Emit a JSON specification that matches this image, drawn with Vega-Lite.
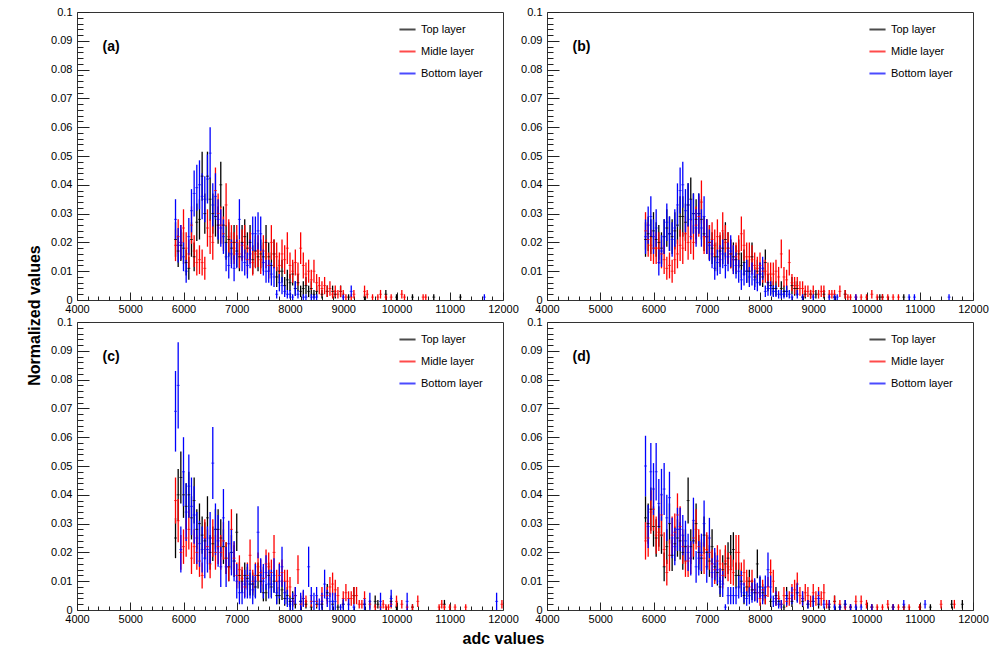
{
"$schema": "https://vega.github.io/schema/vega-lite/v6.json",
"background": "white",
"padding": {"left": 25, "top": 5, "right": 5, "bottom": 5},
"config": {
  "view": {"stroke": "#333", "strokeWidth": 1},
  "font": "Liberation Sans",
  "axis": {"zindex": 1, "labelFont": "Liberation Sans", "labelFontSize": 11, "labelColor": "#000", "domainColor": "#333", "tickColor": "#222", "tickWidth": 1, "grid": false, "titleFont": "Liberation Sans", "titleFontSize": 16, "titleFontWeight": "bold", "titleColor": "#000"},
  "legend": {"labelFont": "Liberation Sans", "labelFontSize": 11, "labelColor": "#000"}
},
"datasets": {
"a": [
{"l":"T","x":5850,"y":0.021,"e":0.006},{"l":"T","x":5900,"y":0.017,"e":0.0055},{"l":"T","x":5950,"y":0.019,"e":0.0055},{"l":"T","x":6000,"y":0.018,"e":0.0055},{"l":"T","x":6050,"y":0.013,"e":0.0045},{"l":"T","x":6100,"y":0.011,"e":0.004},{"l":"T","x":6150,"y":0.021,"e":0.006},{"l":"T","x":6200,"y":0.015,"e":0.005},{"l":"T","x":6250,"y":0.027,"e":0.0065},{"l":"T","x":6300,"y":0.028,"e":0.007},{"l":"T","x":6350,"y":0.043,"e":0.0085},{"l":"T","x":6400,"y":0.03,"e":0.007},{"l":"T","x":6450,"y":0.043,"e":0.0085},{"l":"T","x":6500,"y":0.035,"e":0.0075},{"l":"T","x":6550,"y":0.03,"e":0.007},{"l":"T","x":6600,"y":0.029,"e":0.007},{"l":"T","x":6650,"y":0.026,"e":0.0065},{"l":"T","x":6700,"y":0.04,"e":0.008},{"l":"T","x":6750,"y":0.026,"e":0.0065},{"l":"T","x":6800,"y":0.02,"e":0.006},{"l":"T","x":6850,"y":0.021,"e":0.006},{"l":"T","x":6900,"y":0.018,"e":0.0055},{"l":"T","x":6950,"y":0.02,"e":0.006},{"l":"T","x":7000,"y":0.017,"e":0.0055},{"l":"T","x":7050,"y":0.015,"e":0.005},{"l":"T","x":7100,"y":0.02,"e":0.006},{"l":"T","x":7150,"y":0.022,"e":0.006},{"l":"T","x":7200,"y":0.018,"e":0.0055},{"l":"T","x":7250,"y":0.02,"e":0.006},{"l":"T","x":7300,"y":0.014,"e":0.005},{"l":"T","x":7350,"y":0.017,"e":0.0055},{"l":"T","x":7400,"y":0.015,"e":0.005},{"l":"T","x":7450,"y":0.016,"e":0.005},{"l":"T","x":7500,"y":0.015,"e":0.005},{"l":"T","x":7550,"y":0.02,"e":0.006},{"l":"T","x":7600,"y":0.015,"e":0.005},{"l":"T","x":7650,"y":0.012,"e":0.0045},{"l":"T","x":7700,"y":0.016,"e":0.005},{"l":"T","x":7750,"y":0.008,"e":0.0035},{"l":"T","x":7800,"y":0.01,"e":0.004},{"l":"T","x":7850,"y":0.01,"e":0.004},{"l":"T","x":7900,"y":0.005,"e":0.003},{"l":"T","x":7950,"y":0.007,"e":0.0035},{"l":"T","x":8000,"y":0.006,"e":0.003},{"l":"T","x":8050,"y":0.009,"e":0.004},{"l":"T","x":8100,"y":0.004,"e":0.0025},{"l":"T","x":8150,"y":0.006,"e":0.003},{"l":"T","x":8200,"y":0.003,"e":0.002},{"l":"T","x":8250,"y":0.004,"e":0.0025},{"l":"T","x":8300,"y":0.005,"e":0.003},{"l":"T","x":8350,"y":0.003,"e":0.002},{"l":"T","x":8400,"y":0.004,"e":0.0025},{"l":"T","x":8450,"y":0.002,"e":0.0015},{"l":"T","x":8500,"y":0.003,"e":0.002},{"l":"T","x":8600,"y":0.002,"e":0.0015},{"l":"T","x":8700,"y":0.003,"e":0.002},{"l":"T","x":8800,"y":0.003,"e":0.002},{"l":"T","x":8850,"y":0.002,"e":0.0015},{"l":"T","x":8950,"y":0.003,"e":0.002},{"l":"T","x":9100,"y":0.001,"e":0.001},{"l":"T","x":9400,"y":0.001,"e":0.001},{"l":"T","x":9800,"y":0.002,"e":0.0015},{"l":"T","x":10000,"y":0.001,"e":0.001},{"l":"T","x":10300,"y":0.001,"e":0.001},{"l":"T","x":10700,"y":0.001,"e":0.001},{"l":"T","x":11200,"y":0.001,"e":0.001},
{"l":"M","x":5850,"y":0.019,"e":0.0055},{"l":"M","x":5900,"y":0.022,"e":0.006},{"l":"M","x":5950,"y":0.02,"e":0.006},{"l":"M","x":6000,"y":0.025,"e":0.0065},{"l":"M","x":6050,"y":0.018,"e":0.0055},{"l":"M","x":6100,"y":0.016,"e":0.005},{"l":"M","x":6150,"y":0.026,"e":0.0065},{"l":"M","x":6200,"y":0.017,"e":0.0055},{"l":"M","x":6250,"y":0.013,"e":0.0045},{"l":"M","x":6300,"y":0.014,"e":0.005},{"l":"M","x":6350,"y":0.013,"e":0.0045},{"l":"M","x":6400,"y":0.011,"e":0.004},{"l":"M","x":6450,"y":0.025,"e":0.0065},{"l":"M","x":6500,"y":0.022,"e":0.006},{"l":"M","x":6550,"y":0.02,"e":0.006},{"l":"M","x":6600,"y":0.038,"e":0.008},{"l":"M","x":6650,"y":0.03,"e":0.007},{"l":"M","x":6700,"y":0.026,"e":0.0065},{"l":"M","x":6750,"y":0.023,"e":0.006},{"l":"M","x":6800,"y":0.033,"e":0.0075},{"l":"M","x":6850,"y":0.022,"e":0.006},{"l":"M","x":6900,"y":0.02,"e":0.006},{"l":"M","x":6950,"y":0.018,"e":0.0055},{"l":"M","x":7000,"y":0.02,"e":0.006},{"l":"M","x":7050,"y":0.016,"e":0.005},{"l":"M","x":7100,"y":0.019,"e":0.0055},{"l":"M","x":7150,"y":0.02,"e":0.006},{"l":"M","x":7200,"y":0.014,"e":0.005},{"l":"M","x":7250,"y":0.018,"e":0.0055},{"l":"M","x":7300,"y":0.013,"e":0.0045},{"l":"M","x":7350,"y":0.016,"e":0.005},{"l":"M","x":7400,"y":0.017,"e":0.0055},{"l":"M","x":7450,"y":0.014,"e":0.005},{"l":"M","x":7500,"y":0.017,"e":0.0055},{"l":"M","x":7550,"y":0.016,"e":0.005},{"l":"M","x":7600,"y":0.012,"e":0.0045},{"l":"M","x":7650,"y":0.02,"e":0.006},{"l":"M","x":7700,"y":0.016,"e":0.005},{"l":"M","x":7750,"y":0.015,"e":0.005},{"l":"M","x":7800,"y":0.012,"e":0.0045},{"l":"M","x":7850,"y":0.016,"e":0.005},{"l":"M","x":7900,"y":0.014,"e":0.005},{"l":"M","x":7950,"y":0.018,"e":0.0055},{"l":"M","x":8000,"y":0.012,"e":0.0045},{"l":"M","x":8050,"y":0.01,"e":0.004},{"l":"M","x":8100,"y":0.013,"e":0.0045},{"l":"M","x":8150,"y":0.009,"e":0.004},{"l":"M","x":8200,"y":0.018,"e":0.0055},{"l":"M","x":8250,"y":0.012,"e":0.0045},{"l":"M","x":8300,"y":0.009,"e":0.004},{"l":"M","x":8350,"y":0.01,"e":0.004},{"l":"M","x":8400,"y":0.007,"e":0.0035},{"l":"M","x":8450,"y":0.01,"e":0.004},{"l":"M","x":8500,"y":0.006,"e":0.003},{"l":"M","x":8550,"y":0.005,"e":0.003},{"l":"M","x":8600,"y":0.004,"e":0.0025},{"l":"M","x":8650,"y":0.005,"e":0.003},{"l":"M","x":8700,"y":0.003,"e":0.002},{"l":"M","x":8750,"y":0.004,"e":0.0025},{"l":"M","x":8800,"y":0.002,"e":0.0015},{"l":"M","x":8850,"y":0.003,"e":0.002},{"l":"M","x":8900,"y":0.002,"e":0.0015},{"l":"M","x":8950,"y":0.003,"e":0.002},{"l":"M","x":9000,"y":0.002,"e":0.0015},{"l":"M","x":9050,"y":0.001,"e":0.001},{"l":"M","x":9150,"y":0.001,"e":0.001},{"l":"M","x":9200,"y":0.002,"e":0.0015},{"l":"M","x":9400,"y":0.003,"e":0.002},{"l":"M","x":9450,"y":0.002,"e":0.0015},{"l":"M","x":9550,"y":0.001,"e":0.001},{"l":"M","x":9650,"y":0.001,"e":0.001},{"l":"M","x":9700,"y":0.002,"e":0.0015},{"l":"M","x":9800,"y":0.001,"e":0.001},{"l":"M","x":9900,"y":0.001,"e":0.001},{"l":"M","x":10100,"y":0.002,"e":0.0015},{"l":"M","x":10150,"y":0.001,"e":0.001},{"l":"M","x":10500,"y":0.001,"e":0.001},{"l":"M","x":10550,"y":0.001,"e":0.001},
{"l":"B","x":5850,"y":0.028,"e":0.007},{"l":"B","x":5900,"y":0.019,"e":0.006},{"l":"B","x":5950,"y":0.02,"e":0.006},{"l":"B","x":6000,"y":0.015,"e":0.005},{"l":"B","x":6050,"y":0.01,"e":0.004},{"l":"B","x":6100,"y":0.022,"e":0.0065},{"l":"B","x":6150,"y":0.031,"e":0.0075},{"l":"B","x":6200,"y":0.037,"e":0.008},{"l":"B","x":6250,"y":0.039,"e":0.008},{"l":"B","x":6300,"y":0.04,"e":0.0085},{"l":"B","x":6350,"y":0.036,"e":0.008},{"l":"B","x":6400,"y":0.035,"e":0.008},{"l":"B","x":6450,"y":0.042,"e":0.0085},{"l":"B","x":6500,"y":0.051,"e":0.009},{"l":"B","x":6550,"y":0.033,"e":0.0075},{"l":"B","x":6600,"y":0.036,"e":0.008},{"l":"B","x":6650,"y":0.028,"e":0.007},{"l":"B","x":6700,"y":0.025,"e":0.0065},{"l":"B","x":6750,"y":0.022,"e":0.006},{"l":"B","x":6800,"y":0.015,"e":0.005},{"l":"B","x":6850,"y":0.012,"e":0.0045},{"l":"B","x":6900,"y":0.016,"e":0.005},{"l":"B","x":6950,"y":0.011,"e":0.0045},{"l":"B","x":7000,"y":0.016,"e":0.005},{"l":"B","x":7050,"y":0.028,"e":0.007},{"l":"B","x":7100,"y":0.015,"e":0.005},{"l":"B","x":7150,"y":0.013,"e":0.0045},{"l":"B","x":7200,"y":0.012,"e":0.0045},{"l":"B","x":7250,"y":0.016,"e":0.005},{"l":"B","x":7300,"y":0.023,"e":0.006},{"l":"B","x":7350,"y":0.023,"e":0.006},{"l":"B","x":7400,"y":0.024,"e":0.0065},{"l":"B","x":7450,"y":0.023,"e":0.006},{"l":"B","x":7500,"y":0.013,"e":0.0045},{"l":"B","x":7550,"y":0.01,"e":0.004},{"l":"B","x":7600,"y":0.01,"e":0.004},{"l":"B","x":7650,"y":0.009,"e":0.004},{"l":"B","x":7700,"y":0.008,"e":0.0035},{"l":"B","x":7750,"y":0.002,"e":0.0015},{"l":"B","x":7800,"y":0.006,"e":0.003},{"l":"B","x":7850,"y":0.005,"e":0.003},{"l":"B","x":7900,"y":0.003,"e":0.002},{"l":"B","x":7950,"y":0.002,"e":0.0015},{"l":"B","x":8000,"y":0.002,"e":0.0015},{"l":"B","x":8050,"y":0.001,"e":0.001},{"l":"B","x":8100,"y":0.004,"e":0.0025},{"l":"B","x":8150,"y":0.002,"e":0.0015},{"l":"B","x":8250,"y":0.001,"e":0.001},{"l":"B","x":8300,"y":0.001,"e":0.001},{"l":"B","x":8400,"y":0.001,"e":0.001},{"l":"B","x":8450,"y":0.001,"e":0.001},{"l":"B","x":8500,"y":0.001,"e":0.001},{"l":"B","x":9000,"y":0.001,"e":0.001},{"l":"B","x":9150,"y":0.003,"e":0.002},{"l":"B","x":11650,"y":0.001,"e":0.001}
],
"b": [
{"l":"T","x":5850,"y":0.021,"e":0.006},{"l":"T","x":5900,"y":0.023,"e":0.006},{"l":"T","x":5950,"y":0.022,"e":0.006},{"l":"T","x":6000,"y":0.024,"e":0.0065},{"l":"T","x":6050,"y":0.021,"e":0.006},{"l":"T","x":6100,"y":0.02,"e":0.006},{"l":"T","x":6150,"y":0.018,"e":0.0055},{"l":"T","x":6200,"y":0.022,"e":0.006},{"l":"T","x":6250,"y":0.025,"e":0.0065},{"l":"T","x":6300,"y":0.023,"e":0.006},{"l":"T","x":6350,"y":0.022,"e":0.006},{"l":"T","x":6400,"y":0.024,"e":0.0065},{"l":"T","x":6450,"y":0.026,"e":0.0065},{"l":"T","x":6500,"y":0.029,"e":0.007},{"l":"T","x":6550,"y":0.029,"e":0.007},{"l":"T","x":6600,"y":0.027,"e":0.0065},{"l":"T","x":6650,"y":0.033,"e":0.0075},{"l":"T","x":6700,"y":0.035,"e":0.0075},{"l":"T","x":6750,"y":0.03,"e":0.007},{"l":"T","x":6800,"y":0.028,"e":0.007},{"l":"T","x":6850,"y":0.03,"e":0.007},{"l":"T","x":6900,"y":0.028,"e":0.007},{"l":"T","x":6950,"y":0.023,"e":0.006},{"l":"T","x":7000,"y":0.022,"e":0.006},{"l":"T","x":7050,"y":0.02,"e":0.006},{"l":"T","x":7100,"y":0.018,"e":0.0055},{"l":"T","x":7150,"y":0.015,"e":0.005},{"l":"T","x":7200,"y":0.015,"e":0.005},{"l":"T","x":7250,"y":0.017,"e":0.0055},{"l":"T","x":7300,"y":0.018,"e":0.0055},{"l":"T","x":7350,"y":0.021,"e":0.006},{"l":"T","x":7400,"y":0.018,"e":0.0055},{"l":"T","x":7450,"y":0.016,"e":0.005},{"l":"T","x":7500,"y":0.015,"e":0.005},{"l":"T","x":7550,"y":0.014,"e":0.005},{"l":"T","x":7600,"y":0.016,"e":0.005},{"l":"T","x":7650,"y":0.012,"e":0.0045},{"l":"T","x":7700,"y":0.013,"e":0.0045},{"l":"T","x":7750,"y":0.01,"e":0.004},{"l":"T","x":7800,"y":0.01,"e":0.004},{"l":"T","x":7850,"y":0.015,"e":0.005},{"l":"T","x":7900,"y":0.008,"e":0.0035},{"l":"T","x":7950,"y":0.01,"e":0.004},{"l":"T","x":8000,"y":0.009,"e":0.004},{"l":"T","x":8050,"y":0.008,"e":0.0035},{"l":"T","x":8100,"y":0.013,"e":0.0045},{"l":"T","x":8150,"y":0.006,"e":0.003},{"l":"T","x":8200,"y":0.005,"e":0.003},{"l":"T","x":8250,"y":0.004,"e":0.0025},{"l":"T","x":8300,"y":0.004,"e":0.0025},{"l":"T","x":8400,"y":0.004,"e":0.0025},{"l":"T","x":8450,"y":0.003,"e":0.002},{"l":"T","x":8500,"y":0.003,"e":0.002},{"l":"T","x":8600,"y":0.005,"e":0.003},{"l":"T","x":8650,"y":0.004,"e":0.0025},{"l":"T","x":8700,"y":0.004,"e":0.0025},{"l":"T","x":8800,"y":0.001,"e":0.001},{"l":"T","x":8850,"y":0.002,"e":0.0015},{"l":"T","x":8950,"y":0.002,"e":0.0015},{"l":"T","x":9050,"y":0.002,"e":0.0015},{"l":"T","x":9200,"y":0.002,"e":0.0015},{"l":"T","x":9400,"y":0.001,"e":0.001},{"l":"T","x":9600,"y":0.002,"e":0.0015},{"l":"T","x":10250,"y":0.001,"e":0.001},{"l":"T","x":10300,"y":0.001,"e":0.001},{"l":"T","x":10700,"y":0.001,"e":0.001},
{"l":"M","x":5850,"y":0.024,"e":0.0065},{"l":"M","x":5900,"y":0.021,"e":0.006},{"l":"M","x":5950,"y":0.019,"e":0.0055},{"l":"M","x":6000,"y":0.018,"e":0.0055},{"l":"M","x":6050,"y":0.018,"e":0.0055},{"l":"M","x":6100,"y":0.018,"e":0.0055},{"l":"M","x":6150,"y":0.016,"e":0.005},{"l":"M","x":6200,"y":0.014,"e":0.005},{"l":"M","x":6250,"y":0.011,"e":0.004},{"l":"M","x":6300,"y":0.012,"e":0.0045},{"l":"M","x":6350,"y":0.01,"e":0.004},{"l":"M","x":6400,"y":0.014,"e":0.005},{"l":"M","x":6450,"y":0.016,"e":0.005},{"l":"M","x":6500,"y":0.019,"e":0.0055},{"l":"M","x":6550,"y":0.018,"e":0.0055},{"l":"M","x":6600,"y":0.023,"e":0.006},{"l":"M","x":6650,"y":0.02,"e":0.006},{"l":"M","x":6700,"y":0.022,"e":0.006},{"l":"M","x":6750,"y":0.02,"e":0.006},{"l":"M","x":6800,"y":0.026,"e":0.0065},{"l":"M","x":6850,"y":0.029,"e":0.007},{"l":"M","x":6900,"y":0.034,"e":0.0075},{"l":"M","x":6950,"y":0.022,"e":0.006},{"l":"M","x":7000,"y":0.022,"e":0.006},{"l":"M","x":7050,"y":0.02,"e":0.006},{"l":"M","x":7100,"y":0.021,"e":0.006},{"l":"M","x":7150,"y":0.019,"e":0.0055},{"l":"M","x":7200,"y":0.022,"e":0.006},{"l":"M","x":7250,"y":0.018,"e":0.0055},{"l":"M","x":7300,"y":0.024,"e":0.0065},{"l":"M","x":7350,"y":0.02,"e":0.006},{"l":"M","x":7400,"y":0.018,"e":0.0055},{"l":"M","x":7450,"y":0.016,"e":0.005},{"l":"M","x":7500,"y":0.014,"e":0.005},{"l":"M","x":7550,"y":0.015,"e":0.005},{"l":"M","x":7600,"y":0.017,"e":0.0055},{"l":"M","x":7650,"y":0.023,"e":0.006},{"l":"M","x":7700,"y":0.019,"e":0.0055},{"l":"M","x":7750,"y":0.015,"e":0.005},{"l":"M","x":7800,"y":0.015,"e":0.005},{"l":"M","x":7850,"y":0.014,"e":0.005},{"l":"M","x":7900,"y":0.012,"e":0.0045},{"l":"M","x":7950,"y":0.011,"e":0.004},{"l":"M","x":8000,"y":0.012,"e":0.0045},{"l":"M","x":8050,"y":0.01,"e":0.004},{"l":"M","x":8100,"y":0.01,"e":0.004},{"l":"M","x":8150,"y":0.009,"e":0.004},{"l":"M","x":8200,"y":0.009,"e":0.004},{"l":"M","x":8250,"y":0.009,"e":0.004},{"l":"M","x":8300,"y":0.01,"e":0.004},{"l":"M","x":8350,"y":0.008,"e":0.0035},{"l":"M","x":8400,"y":0.016,"e":0.005},{"l":"M","x":8450,"y":0.008,"e":0.0035},{"l":"M","x":8500,"y":0.007,"e":0.0035},{"l":"M","x":8550,"y":0.013,"e":0.0045},{"l":"M","x":8600,"y":0.006,"e":0.003},{"l":"M","x":8650,"y":0.005,"e":0.003},{"l":"M","x":8700,"y":0.005,"e":0.003},{"l":"M","x":8750,"y":0.004,"e":0.0025},{"l":"M","x":8800,"y":0.004,"e":0.0025},{"l":"M","x":8850,"y":0.003,"e":0.002},{"l":"M","x":8900,"y":0.003,"e":0.002},{"l":"M","x":8950,"y":0.002,"e":0.0015},{"l":"M","x":9000,"y":0.003,"e":0.002},{"l":"M","x":9100,"y":0.002,"e":0.0015},{"l":"M","x":9150,"y":0.003,"e":0.002},{"l":"M","x":9200,"y":0.003,"e":0.002},{"l":"M","x":9300,"y":0.002,"e":0.0015},{"l":"M","x":9350,"y":0.002,"e":0.0015},{"l":"M","x":9400,"y":0.002,"e":0.0015},{"l":"M","x":9500,"y":0.003,"e":0.002},{"l":"M","x":9600,"y":0.002,"e":0.0015},{"l":"M","x":9650,"y":0.001,"e":0.001},{"l":"M","x":9700,"y":0.001,"e":0.001},{"l":"M","x":9800,"y":0.001,"e":0.001},{"l":"M","x":9900,"y":0.001,"e":0.001},{"l":"M","x":10000,"y":0.001,"e":0.001},{"l":"M","x":10100,"y":0.002,"e":0.0015},{"l":"M","x":10200,"y":0.001,"e":0.001},{"l":"M","x":10300,"y":0.001,"e":0.001},{"l":"M","x":10400,"y":0.001,"e":0.001},{"l":"M","x":10500,"y":0.001,"e":0.001},{"l":"M","x":10600,"y":0.001,"e":0.001},
{"l":"B","x":5850,"y":0.022,"e":0.006},{"l":"B","x":5900,"y":0.026,"e":0.0065},{"l":"B","x":5950,"y":0.029,"e":0.007},{"l":"B","x":6000,"y":0.022,"e":0.006},{"l":"B","x":6050,"y":0.025,"e":0.0065},{"l":"B","x":6100,"y":0.013,"e":0.0045},{"l":"B","x":6150,"y":0.017,"e":0.0055},{"l":"B","x":6200,"y":0.022,"e":0.006},{"l":"B","x":6250,"y":0.027,"e":0.0065},{"l":"B","x":6300,"y":0.023,"e":0.006},{"l":"B","x":6350,"y":0.021,"e":0.006},{"l":"B","x":6400,"y":0.025,"e":0.0065},{"l":"B","x":6450,"y":0.033,"e":0.0075},{"l":"B","x":6500,"y":0.038,"e":0.008},{"l":"B","x":6550,"y":0.04,"e":0.008},{"l":"B","x":6600,"y":0.031,"e":0.0075},{"l":"B","x":6650,"y":0.033,"e":0.0075},{"l":"B","x":6700,"y":0.028,"e":0.007},{"l":"B","x":6750,"y":0.03,"e":0.007},{"l":"B","x":6800,"y":0.025,"e":0.0065},{"l":"B","x":6850,"y":0.03,"e":0.007},{"l":"B","x":6900,"y":0.025,"e":0.0065},{"l":"B","x":6950,"y":0.029,"e":0.007},{"l":"B","x":7000,"y":0.022,"e":0.006},{"l":"B","x":7050,"y":0.019,"e":0.0055},{"l":"B","x":7100,"y":0.016,"e":0.005},{"l":"B","x":7150,"y":0.011,"e":0.004},{"l":"B","x":7200,"y":0.013,"e":0.0045},{"l":"B","x":7250,"y":0.014,"e":0.005},{"l":"B","x":7300,"y":0.016,"e":0.005},{"l":"B","x":7350,"y":0.012,"e":0.0045},{"l":"B","x":7400,"y":0.015,"e":0.005},{"l":"B","x":7450,"y":0.017,"e":0.0055},{"l":"B","x":7500,"y":0.014,"e":0.005},{"l":"B","x":7550,"y":0.012,"e":0.0045},{"l":"B","x":7600,"y":0.01,"e":0.004},{"l":"B","x":7650,"y":0.007,"e":0.0035},{"l":"B","x":7700,"y":0.009,"e":0.004},{"l":"B","x":7750,"y":0.01,"e":0.004},{"l":"B","x":7800,"y":0.008,"e":0.0035},{"l":"B","x":7850,"y":0.009,"e":0.004},{"l":"B","x":7900,"y":0.007,"e":0.0035},{"l":"B","x":7950,"y":0.006,"e":0.003},{"l":"B","x":8000,"y":0.009,"e":0.004},{"l":"B","x":8050,"y":0.011,"e":0.004},{"l":"B","x":8100,"y":0.003,"e":0.002},{"l":"B","x":8150,"y":0.004,"e":0.0025},{"l":"B","x":8200,"y":0.004,"e":0.0025},{"l":"B","x":8250,"y":0.003,"e":0.002},{"l":"B","x":8300,"y":0.003,"e":0.002},{"l":"B","x":8350,"y":0.002,"e":0.0015},{"l":"B","x":8400,"y":0.002,"e":0.0015},{"l":"B","x":8450,"y":0.002,"e":0.0015},{"l":"B","x":8500,"y":0.003,"e":0.002},{"l":"B","x":8550,"y":0.002,"e":0.0015},{"l":"B","x":8600,"y":0.001,"e":0.001},{"l":"B","x":8700,"y":0.002,"e":0.0015},{"l":"B","x":8800,"y":0.001,"e":0.001},{"l":"B","x":9000,"y":0.001,"e":0.001},{"l":"B","x":9300,"y":0.001,"e":0.001},{"l":"B","x":9400,"y":0.001,"e":0.001},{"l":"B","x":9450,"y":0.001,"e":0.001},{"l":"B","x":9800,"y":0.001,"e":0.001},{"l":"B","x":10800,"y":0.001,"e":0.001},{"l":"B","x":10900,"y":0.001,"e":0.001},{"l":"B","x":11550,"y":0.001,"e":0.001}
],
"c": [
{"l":"T","x":5850,"y":0.025,"e":0.007},{"l":"T","x":5900,"y":0.04,"e":0.009},{"l":"T","x":5950,"y":0.046,"e":0.009},{"l":"T","x":6000,"y":0.04,"e":0.008},{"l":"T","x":6050,"y":0.036,"e":0.008},{"l":"T","x":6100,"y":0.04,"e":0.008},{"l":"T","x":6150,"y":0.032,"e":0.0075},{"l":"T","x":6200,"y":0.038,"e":0.008},{"l":"T","x":6250,"y":0.028,"e":0.007},{"l":"T","x":6300,"y":0.03,"e":0.007},{"l":"T","x":6350,"y":0.026,"e":0.0065},{"l":"T","x":6400,"y":0.024,"e":0.0065},{"l":"T","x":6450,"y":0.032,"e":0.0075},{"l":"T","x":6500,"y":0.02,"e":0.006},{"l":"T","x":6550,"y":0.023,"e":0.006},{"l":"T","x":6600,"y":0.028,"e":0.007},{"l":"T","x":6650,"y":0.028,"e":0.007},{"l":"T","x":6700,"y":0.025,"e":0.0065},{"l":"T","x":6750,"y":0.022,"e":0.006},{"l":"T","x":6800,"y":0.018,"e":0.0055},{"l":"T","x":6850,"y":0.015,"e":0.005},{"l":"T","x":6900,"y":0.02,"e":0.006},{"l":"T","x":6950,"y":0.017,"e":0.0055},{"l":"T","x":7000,"y":0.027,"e":0.0065},{"l":"T","x":7050,"y":0.012,"e":0.0045},{"l":"T","x":7100,"y":0.01,"e":0.004},{"l":"T","x":7150,"y":0.012,"e":0.0045},{"l":"T","x":7200,"y":0.011,"e":0.004},{"l":"T","x":7250,"y":0.009,"e":0.004},{"l":"T","x":7300,"y":0.009,"e":0.004},{"l":"T","x":7350,"y":0.008,"e":0.0035},{"l":"T","x":7400,"y":0.012,"e":0.0045},{"l":"T","x":7450,"y":0.01,"e":0.004},{"l":"T","x":7500,"y":0.006,"e":0.003},{"l":"T","x":7550,"y":0.006,"e":0.003},{"l":"T","x":7600,"y":0.012,"e":0.0045},{"l":"T","x":7650,"y":0.008,"e":0.0035},{"l":"T","x":7700,"y":0.01,"e":0.004},{"l":"T","x":7750,"y":0.005,"e":0.003},{"l":"T","x":7800,"y":0.005,"e":0.003},{"l":"T","x":7850,"y":0.007,"e":0.0035},{"l":"T","x":7900,"y":0.004,"e":0.0025},{"l":"T","x":7950,"y":0.005,"e":0.003},{"l":"T","x":8000,"y":0.003,"e":0.002},{"l":"T","x":8050,"y":0.004,"e":0.0025},{"l":"T","x":8100,"y":0.002,"e":0.0015},{"l":"T","x":8200,"y":0.003,"e":0.002},{"l":"T","x":8300,"y":0.002,"e":0.0015},{"l":"T","x":8400,"y":0.001,"e":0.001},{"l":"T","x":8500,"y":0.002,"e":0.0015},{"l":"T","x":8600,"y":0.002,"e":0.0015},{"l":"T","x":8700,"y":0.006,"e":0.003},{"l":"T","x":8800,"y":0.002,"e":0.0015},{"l":"T","x":8900,"y":0.001,"e":0.001},{"l":"T","x":9000,"y":0.002,"e":0.0015},{"l":"T","x":9200,"y":0.005,"e":0.003},{"l":"T","x":9400,"y":0.002,"e":0.0015},{"l":"T","x":9600,"y":0.003,"e":0.002},{"l":"T","x":9650,"y":0.002,"e":0.0015},{"l":"T","x":9900,"y":0.003,"e":0.002},{"l":"T","x":10000,"y":0.001,"e":0.001},{"l":"T","x":10300,"y":0.001,"e":0.001},{"l":"T","x":10900,"y":0.002,"e":0.0015},
{"l":"M","x":5850,"y":0.038,"e":0.008},{"l":"M","x":5900,"y":0.031,"e":0.0075},{"l":"M","x":5950,"y":0.02,"e":0.006},{"l":"M","x":6000,"y":0.022,"e":0.006},{"l":"M","x":6050,"y":0.025,"e":0.0065},{"l":"M","x":6100,"y":0.028,"e":0.007},{"l":"M","x":6150,"y":0.018,"e":0.0055},{"l":"M","x":6200,"y":0.022,"e":0.006},{"l":"M","x":6250,"y":0.02,"e":0.006},{"l":"M","x":6300,"y":0.017,"e":0.0055},{"l":"M","x":6350,"y":0.012,"e":0.0045},{"l":"M","x":6400,"y":0.025,"e":0.0065},{"l":"M","x":6450,"y":0.022,"e":0.006},{"l":"M","x":6500,"y":0.016,"e":0.005},{"l":"M","x":6550,"y":0.025,"e":0.0065},{"l":"M","x":6600,"y":0.02,"e":0.006},{"l":"M","x":6650,"y":0.022,"e":0.006},{"l":"M","x":6700,"y":0.02,"e":0.006},{"l":"M","x":6750,"y":0.024,"e":0.0065},{"l":"M","x":6800,"y":0.018,"e":0.0055},{"l":"M","x":6850,"y":0.015,"e":0.005},{"l":"M","x":6900,"y":0.028,"e":0.007},{"l":"M","x":6950,"y":0.018,"e":0.0055},{"l":"M","x":7000,"y":0.012,"e":0.0045},{"l":"M","x":7050,"y":0.014,"e":0.005},{"l":"M","x":7100,"y":0.011,"e":0.004},{"l":"M","x":7150,"y":0.008,"e":0.0035},{"l":"M","x":7200,"y":0.012,"e":0.0045},{"l":"M","x":7250,"y":0.019,"e":0.0055},{"l":"M","x":7300,"y":0.01,"e":0.004},{"l":"M","x":7350,"y":0.012,"e":0.0045},{"l":"M","x":7400,"y":0.015,"e":0.005},{"l":"M","x":7450,"y":0.013,"e":0.0045},{"l":"M","x":7500,"y":0.011,"e":0.004},{"l":"M","x":7550,"y":0.016,"e":0.005},{"l":"M","x":7600,"y":0.015,"e":0.005},{"l":"M","x":7650,"y":0.013,"e":0.0045},{"l":"M","x":7700,"y":0.02,"e":0.006},{"l":"M","x":7750,"y":0.01,"e":0.004},{"l":"M","x":7800,"y":0.012,"e":0.0045},{"l":"M","x":7850,"y":0.013,"e":0.0045},{"l":"M","x":7900,"y":0.01,"e":0.004},{"l":"M","x":7950,"y":0.01,"e":0.004},{"l":"M","x":8000,"y":0.008,"e":0.0035},{"l":"M","x":8050,"y":0.003,"e":0.002},{"l":"M","x":8100,"y":0.005,"e":0.003},{"l":"M","x":8150,"y":0.014,"e":0.005},{"l":"M","x":8200,"y":0.002,"e":0.0015},{"l":"M","x":8250,"y":0.004,"e":0.0025},{"l":"M","x":8300,"y":0.003,"e":0.002},{"l":"M","x":8400,"y":0.003,"e":0.002},{"l":"M","x":8500,"y":0.003,"e":0.002},{"l":"M","x":8600,"y":0.005,"e":0.003},{"l":"M","x":8700,"y":0.005,"e":0.003},{"l":"M","x":8750,"y":0.008,"e":0.0035},{"l":"M","x":8800,"y":0.009,"e":0.004},{"l":"M","x":8850,"y":0.007,"e":0.0035},{"l":"M","x":8900,"y":0.005,"e":0.003},{"l":"M","x":9000,"y":0.004,"e":0.0025},{"l":"M","x":9050,"y":0.006,"e":0.003},{"l":"M","x":9100,"y":0.004,"e":0.0025},{"l":"M","x":9150,"y":0.004,"e":0.0025},{"l":"M","x":9200,"y":0.005,"e":0.003},{"l":"M","x":9250,"y":0.005,"e":0.003},{"l":"M","x":9300,"y":0.002,"e":0.0015},{"l":"M","x":9350,"y":0.002,"e":0.0015},{"l":"M","x":9400,"y":0.004,"e":0.0025},{"l":"M","x":9500,"y":0.002,"e":0.0015},{"l":"M","x":9600,"y":0.001,"e":0.001},{"l":"M","x":9700,"y":0.001,"e":0.001},{"l":"M","x":9750,"y":0.002,"e":0.0015},{"l":"M","x":9800,"y":0.001,"e":0.001},{"l":"M","x":9850,"y":0.001,"e":0.001},{"l":"M","x":9900,"y":0.002,"e":0.0015},{"l":"M","x":10000,"y":0.003,"e":0.002},{"l":"M","x":10100,"y":0.002,"e":0.0015},{"l":"M","x":10200,"y":0.001,"e":0.001},{"l":"M","x":10300,"y":0.001,"e":0.001},{"l":"M","x":10400,"y":0.003,"e":0.002},{"l":"M","x":10800,"y":0.001,"e":0.001},{"l":"M","x":10850,"y":0.002,"e":0.0015},{"l":"M","x":10900,"y":0.001,"e":0.001},{"l":"M","x":11000,"y":0.001,"e":0.001},{"l":"M","x":11100,"y":0.001,"e":0.001},{"l":"M","x":11300,"y":0.001,"e":0.001},{"l":"M","x":11980,"y":0.002,"e":0.0015},
{"l":"B","x":5850,"y":0.069,"e":0.014},{"l":"B","x":5900,"y":0.078,"e":0.015},{"l":"B","x":5950,"y":0.021,"e":0.008},{"l":"B","x":6000,"y":0.048,"e":0.012},{"l":"B","x":6050,"y":0.034,"e":0.01},{"l":"B","x":6100,"y":0.043,"e":0.011},{"l":"B","x":6150,"y":0.036,"e":0.01},{"l":"B","x":6200,"y":0.033,"e":0.01},{"l":"B","x":6250,"y":0.025,"e":0.009},{"l":"B","x":6300,"y":0.023,"e":0.008},{"l":"B","x":6350,"y":0.021,"e":0.008},{"l":"B","x":6400,"y":0.018,"e":0.007},{"l":"B","x":6450,"y":0.021,"e":0.008},{"l":"B","x":6500,"y":0.025,"e":0.009},{"l":"B","x":6550,"y":0.051,"e":0.0125},{"l":"B","x":6600,"y":0.028,"e":0.009},{"l":"B","x":6650,"y":0.024,"e":0.009},{"l":"B","x":6700,"y":0.015,"e":0.007},{"l":"B","x":6750,"y":0.032,"e":0.01},{"l":"B","x":6800,"y":0.015,"e":0.007},{"l":"B","x":6850,"y":0.023,"e":0.008},{"l":"B","x":6900,"y":0.02,"e":0.008},{"l":"B","x":6950,"y":0.017,"e":0.007},{"l":"B","x":7000,"y":0.01,"e":0.006},{"l":"B","x":7050,"y":0.006,"e":0.004},{"l":"B","x":7100,"y":0.006,"e":0.004},{"l":"B","x":7150,"y":0.009,"e":0.005},{"l":"B","x":7200,"y":0.01,"e":0.006},{"l":"B","x":7250,"y":0.009,"e":0.005},{"l":"B","x":7300,"y":0.007,"e":0.005},{"l":"B","x":7350,"y":0.01,"e":0.006},{"l":"B","x":7400,"y":0.027,"e":0.009},{"l":"B","x":7450,"y":0.012,"e":0.006},{"l":"B","x":7500,"y":0.01,"e":0.006},{"l":"B","x":7550,"y":0.013,"e":0.006},{"l":"B","x":7600,"y":0.009,"e":0.005},{"l":"B","x":7650,"y":0.009,"e":0.005},{"l":"B","x":7700,"y":0.012,"e":0.006},{"l":"B","x":7750,"y":0.006,"e":0.004},{"l":"B","x":7800,"y":0.01,"e":0.006},{"l":"B","x":7850,"y":0.015,"e":0.007},{"l":"B","x":7900,"y":0.006,"e":0.004},{"l":"B","x":7950,"y":0.004,"e":0.003},{"l":"B","x":8000,"y":0.002,"e":0.002},{"l":"B","x":8050,"y":0.003,"e":0.003},{"l":"B","x":8100,"y":0.005,"e":0.003},{"l":"B","x":8200,"y":0.003,"e":0.003},{"l":"B","x":8250,"y":0.004,"e":0.003},{"l":"B","x":8350,"y":0.015,"e":0.007},{"l":"B","x":8400,"y":0.005,"e":0.003},{"l":"B","x":8450,"y":0.003,"e":0.003},{"l":"B","x":8500,"y":0.005,"e":0.003},{"l":"B","x":8550,"y":0.002,"e":0.002},{"l":"B","x":8600,"y":0.003,"e":0.003},{"l":"B","x":8650,"y":0.009,"e":0.005},{"l":"B","x":8700,"y":0.004,"e":0.003},{"l":"B","x":8750,"y":0.003,"e":0.003},{"l":"B","x":8800,"y":0.003,"e":0.003},{"l":"B","x":8850,"y":0.003,"e":0.003},{"l":"B","x":8950,"y":0.001,"e":0.001},{"l":"B","x":9000,"y":0.002,"e":0.002},{"l":"B","x":9100,"y":0.002,"e":0.002},{"l":"B","x":9200,"y":0.001,"e":0.001},{"l":"B","x":9400,"y":0.002,"e":0.002},{"l":"B","x":9500,"y":0.003,"e":0.003},{"l":"B","x":9700,"y":0.003,"e":0.003},{"l":"B","x":9900,"y":0.004,"e":0.003},{"l":"B","x":10200,"y":0.003,"e":0.003},{"l":"B","x":11880,"y":0.003,"e":0.003}
],
"d": [
{"l":"T","x":5850,"y":0.032,"e":0.0075},{"l":"T","x":5900,"y":0.03,"e":0.007},{"l":"T","x":5950,"y":0.035,"e":0.0075},{"l":"T","x":6000,"y":0.029,"e":0.007},{"l":"T","x":6050,"y":0.025,"e":0.0065},{"l":"T","x":6100,"y":0.029,"e":0.007},{"l":"T","x":6150,"y":0.026,"e":0.0065},{"l":"T","x":6200,"y":0.015,"e":0.005},{"l":"T","x":6250,"y":0.022,"e":0.006},{"l":"T","x":6300,"y":0.03,"e":0.007},{"l":"T","x":6350,"y":0.019,"e":0.0055},{"l":"T","x":6400,"y":0.023,"e":0.006},{"l":"T","x":6450,"y":0.025,"e":0.0065},{"l":"T","x":6500,"y":0.024,"e":0.0065},{"l":"T","x":6550,"y":0.02,"e":0.006},{"l":"T","x":6600,"y":0.022,"e":0.006},{"l":"T","x":6650,"y":0.038,"e":0.008},{"l":"T","x":6700,"y":0.022,"e":0.006},{"l":"T","x":6750,"y":0.024,"e":0.0065},{"l":"T","x":6800,"y":0.03,"e":0.007},{"l":"T","x":6850,"y":0.02,"e":0.006},{"l":"T","x":6900,"y":0.018,"e":0.0055},{"l":"T","x":6950,"y":0.026,"e":0.0065},{"l":"T","x":7000,"y":0.02,"e":0.006},{"l":"T","x":7050,"y":0.017,"e":0.0055},{"l":"T","x":7100,"y":0.022,"e":0.006},{"l":"T","x":7150,"y":0.015,"e":0.005},{"l":"T","x":7200,"y":0.013,"e":0.0045},{"l":"T","x":7250,"y":0.008,"e":0.0035},{"l":"T","x":7300,"y":0.014,"e":0.005},{"l":"T","x":7350,"y":0.016,"e":0.005},{"l":"T","x":7400,"y":0.018,"e":0.0055},{"l":"T","x":7450,"y":0.02,"e":0.006},{"l":"T","x":7500,"y":0.021,"e":0.006},{"l":"T","x":7550,"y":0.012,"e":0.0045},{"l":"T","x":7600,"y":0.012,"e":0.0045},{"l":"T","x":7650,"y":0.01,"e":0.004},{"l":"T","x":7700,"y":0.005,"e":0.003},{"l":"T","x":7750,"y":0.008,"e":0.0035},{"l":"T","x":7800,"y":0.01,"e":0.004},{"l":"T","x":7850,"y":0.007,"e":0.0035},{"l":"T","x":7900,"y":0.006,"e":0.003},{"l":"T","x":7950,"y":0.016,"e":0.005},{"l":"T","x":8000,"y":0.008,"e":0.0035},{"l":"T","x":8050,"y":0.006,"e":0.003},{"l":"T","x":8100,"y":0.005,"e":0.003},{"l":"T","x":8200,"y":0.003,"e":0.002},{"l":"T","x":8300,"y":0.005,"e":0.003},{"l":"T","x":8350,"y":0.003,"e":0.002},{"l":"T","x":8450,"y":0.001,"e":0.001},{"l":"T","x":8500,"y":0.005,"e":0.003},{"l":"T","x":8600,"y":0.003,"e":0.002},{"l":"T","x":8700,"y":0.006,"e":0.003},{"l":"T","x":8800,"y":0.003,"e":0.002},{"l":"T","x":8900,"y":0.002,"e":0.0015},{"l":"T","x":9000,"y":0.003,"e":0.002},{"l":"T","x":9100,"y":0.002,"e":0.0015},{"l":"T","x":9300,"y":0.001,"e":0.001},{"l":"T","x":9400,"y":0.003,"e":0.002},{"l":"T","x":9500,"y":0.001,"e":0.001},{"l":"T","x":9600,"y":0.002,"e":0.0015},{"l":"T","x":9700,"y":0.001,"e":0.001},{"l":"T","x":10100,"y":0.001,"e":0.001},{"l":"T","x":10500,"y":0.001,"e":0.001},{"l":"T","x":10700,"y":0.001,"e":0.001},{"l":"T","x":11000,"y":0.001,"e":0.001},{"l":"T","x":11200,"y":0.001,"e":0.001},{"l":"T","x":11600,"y":0.002,"e":0.0015},{"l":"T","x":11800,"y":0.002,"e":0.0015},
{"l":"M","x":5850,"y":0.024,"e":0.0065},{"l":"M","x":5900,"y":0.025,"e":0.0065},{"l":"M","x":5950,"y":0.034,"e":0.0075},{"l":"M","x":6000,"y":0.035,"e":0.0075},{"l":"M","x":6050,"y":0.026,"e":0.0065},{"l":"M","x":6100,"y":0.027,"e":0.0065},{"l":"M","x":6150,"y":0.033,"e":0.0075},{"l":"M","x":6200,"y":0.021,"e":0.006},{"l":"M","x":6250,"y":0.013,"e":0.0045},{"l":"M","x":6300,"y":0.019,"e":0.0055},{"l":"M","x":6350,"y":0.026,"e":0.0065},{"l":"M","x":6400,"y":0.027,"e":0.0065},{"l":"M","x":6450,"y":0.033,"e":0.0075},{"l":"M","x":6500,"y":0.029,"e":0.007},{"l":"M","x":6550,"y":0.022,"e":0.006},{"l":"M","x":6600,"y":0.017,"e":0.0055},{"l":"M","x":6650,"y":0.017,"e":0.0055},{"l":"M","x":6700,"y":0.018,"e":0.0055},{"l":"M","x":6750,"y":0.025,"e":0.0065},{"l":"M","x":6800,"y":0.028,"e":0.007},{"l":"M","x":6850,"y":0.022,"e":0.006},{"l":"M","x":6900,"y":0.019,"e":0.0055},{"l":"M","x":6950,"y":0.018,"e":0.0055},{"l":"M","x":7000,"y":0.021,"e":0.006},{"l":"M","x":7050,"y":0.02,"e":0.006},{"l":"M","x":7100,"y":0.016,"e":0.005},{"l":"M","x":7150,"y":0.014,"e":0.005},{"l":"M","x":7200,"y":0.017,"e":0.0055},{"l":"M","x":7250,"y":0.016,"e":0.005},{"l":"M","x":7300,"y":0.012,"e":0.0045},{"l":"M","x":7350,"y":0.017,"e":0.0055},{"l":"M","x":7400,"y":0.015,"e":0.005},{"l":"M","x":7450,"y":0.014,"e":0.005},{"l":"M","x":7500,"y":0.013,"e":0.0045},{"l":"M","x":7550,"y":0.02,"e":0.006},{"l":"M","x":7600,"y":0.02,"e":0.006},{"l":"M","x":7650,"y":0.012,"e":0.0045},{"l":"M","x":7700,"y":0.013,"e":0.0045},{"l":"M","x":7750,"y":0.01,"e":0.004},{"l":"M","x":7800,"y":0.008,"e":0.0035},{"l":"M","x":7850,"y":0.01,"e":0.004},{"l":"M","x":7900,"y":0.007,"e":0.0035},{"l":"M","x":7950,"y":0.006,"e":0.003},{"l":"M","x":8000,"y":0.004,"e":0.0025},{"l":"M","x":8050,"y":0.007,"e":0.0035},{"l":"M","x":8100,"y":0.005,"e":0.003},{"l":"M","x":8150,"y":0.008,"e":0.0035},{"l":"M","x":8200,"y":0.013,"e":0.0045},{"l":"M","x":8250,"y":0.01,"e":0.004},{"l":"M","x":8300,"y":0.004,"e":0.0025},{"l":"M","x":8350,"y":0.004,"e":0.0025},{"l":"M","x":8400,"y":0.002,"e":0.0015},{"l":"M","x":8450,"y":0.005,"e":0.003},{"l":"M","x":8500,"y":0.003,"e":0.002},{"l":"M","x":8550,"y":0.004,"e":0.0025},{"l":"M","x":8600,"y":0.006,"e":0.003},{"l":"M","x":8650,"y":0.007,"e":0.0035},{"l":"M","x":8700,"y":0.009,"e":0.004},{"l":"M","x":8750,"y":0.005,"e":0.003},{"l":"M","x":8800,"y":0.004,"e":0.0025},{"l":"M","x":8850,"y":0.006,"e":0.003},{"l":"M","x":8900,"y":0.005,"e":0.003},{"l":"M","x":8950,"y":0.003,"e":0.002},{"l":"M","x":9000,"y":0.006,"e":0.003},{"l":"M","x":9050,"y":0.004,"e":0.0025},{"l":"M","x":9100,"y":0.005,"e":0.003},{"l":"M","x":9150,"y":0.004,"e":0.0025},{"l":"M","x":9200,"y":0.006,"e":0.003},{"l":"M","x":9250,"y":0.002,"e":0.0015},{"l":"M","x":9300,"y":0.002,"e":0.0015},{"l":"M","x":9400,"y":0.003,"e":0.002},{"l":"M","x":9500,"y":0.002,"e":0.0015},{"l":"M","x":9600,"y":0.001,"e":0.001},{"l":"M","x":9700,"y":0.001,"e":0.001},{"l":"M","x":9800,"y":0.003,"e":0.002},{"l":"M","x":9900,"y":0.003,"e":0.002},{"l":"M","x":10000,"y":0.002,"e":0.0015},{"l":"M","x":10100,"y":0.001,"e":0.001},{"l":"M","x":10200,"y":0.001,"e":0.001},{"l":"M","x":10300,"y":0.001,"e":0.001},{"l":"M","x":10400,"y":0.002,"e":0.0015},{"l":"M","x":10500,"y":0.001,"e":0.001},{"l":"M","x":10600,"y":0.001,"e":0.001},{"l":"M","x":10700,"y":0.001,"e":0.001},{"l":"M","x":10800,"y":0.001,"e":0.001},{"l":"M","x":11000,"y":0.001,"e":0.001},{"l":"M","x":11400,"y":0.002,"e":0.0015},{"l":"M","x":11650,"y":0.002,"e":0.0015},
{"l":"B","x":5850,"y":0.05,"e":0.0105},{"l":"B","x":5900,"y":0.029,"e":0.0075},{"l":"B","x":5950,"y":0.048,"e":0.01},{"l":"B","x":6000,"y":0.042,"e":0.009},{"l":"B","x":6050,"y":0.048,"e":0.01},{"l":"B","x":6100,"y":0.037,"e":0.0085},{"l":"B","x":6150,"y":0.04,"e":0.009},{"l":"B","x":6200,"y":0.042,"e":0.009},{"l":"B","x":6250,"y":0.032,"e":0.008},{"l":"B","x":6300,"y":0.039,"e":0.009},{"l":"B","x":6350,"y":0.025,"e":0.007},{"l":"B","x":6400,"y":0.022,"e":0.0065},{"l":"B","x":6450,"y":0.028,"e":0.0075},{"l":"B","x":6500,"y":0.028,"e":0.0075},{"l":"B","x":6550,"y":0.026,"e":0.007},{"l":"B","x":6600,"y":0.024,"e":0.007},{"l":"B","x":6650,"y":0.02,"e":0.0065},{"l":"B","x":6700,"y":0.018,"e":0.006},{"l":"B","x":6750,"y":0.031,"e":0.008},{"l":"B","x":6800,"y":0.015,"e":0.0055},{"l":"B","x":6850,"y":0.018,"e":0.006},{"l":"B","x":6900,"y":0.02,"e":0.0065},{"l":"B","x":6950,"y":0.03,"e":0.008},{"l":"B","x":7000,"y":0.015,"e":0.0055},{"l":"B","x":7050,"y":0.025,"e":0.007},{"l":"B","x":7100,"y":0.013,"e":0.005},{"l":"B","x":7150,"y":0.016,"e":0.0055},{"l":"B","x":7200,"y":0.014,"e":0.005},{"l":"B","x":7250,"y":0.01,"e":0.0045},{"l":"B","x":7300,"y":0.009,"e":0.0045},{"l":"B","x":7350,"y":0.001,"e":0.001},{"l":"B","x":7400,"y":0.005,"e":0.003},{"l":"B","x":7450,"y":0.005,"e":0.003},{"l":"B","x":7500,"y":0.005,"e":0.003},{"l":"B","x":7550,"y":0.005,"e":0.003},{"l":"B","x":7600,"y":0.008,"e":0.004},{"l":"B","x":7650,"y":0.009,"e":0.0045},{"l":"B","x":7700,"y":0.006,"e":0.0035},{"l":"B","x":7750,"y":0.004,"e":0.0025},{"l":"B","x":7800,"y":0.005,"e":0.003},{"l":"B","x":7850,"y":0.006,"e":0.0035},{"l":"B","x":7900,"y":0.007,"e":0.004},{"l":"B","x":7950,"y":0.006,"e":0.0035},{"l":"B","x":8000,"y":0.008,"e":0.004},{"l":"B","x":8050,"y":0.005,"e":0.003},{"l":"B","x":8100,"y":0.008,"e":0.004},{"l":"B","x":8150,"y":0.014,"e":0.006},{"l":"B","x":8200,"y":0.008,"e":0.004},{"l":"B","x":8250,"y":0.003,"e":0.002},{"l":"B","x":8300,"y":0.004,"e":0.0025},{"l":"B","x":8350,"y":0.002,"e":0.0015},{"l":"B","x":8400,"y":0.002,"e":0.0015},{"l":"B","x":8500,"y":0.004,"e":0.0025},{"l":"B","x":8600,"y":0.005,"e":0.003},{"l":"B","x":8700,"y":0.006,"e":0.0035},{"l":"B","x":8800,"y":0.004,"e":0.0025},{"l":"B","x":8900,"y":0.002,"e":0.0015},{"l":"B","x":9000,"y":0.003,"e":0.002},{"l":"B","x":9100,"y":0.004,"e":0.0025},{"l":"B","x":9200,"y":0.002,"e":0.0015},{"l":"B","x":9300,"y":0.002,"e":0.0015},{"l":"B","x":9400,"y":0.001,"e":0.001},{"l":"B","x":9500,"y":0.001,"e":0.001},{"l":"B","x":9600,"y":0.002,"e":0.0015},{"l":"B","x":9700,"y":0.001,"e":0.001},{"l":"B","x":9800,"y":0.001,"e":0.001},{"l":"B","x":9900,"y":0.001,"e":0.001},{"l":"B","x":10100,"y":0.001,"e":0.001},{"l":"B","x":10500,"y":0.001,"e":0.001},{"l":"B","x":10700,"y":0.002,"e":0.0015},{"l":"B","x":11100,"y":0.002,"e":0.0015}
],
"labels": [{"p":"a","x":4480,"y":0.0878,"t":"(a)"},{"p":"b","x":4480,"y":0.0878,"t":"(b)"},{"p":"c","x":4480,"y":0.0878,"t":"(c)"},{"p":"d","x":4480,"y":0.0878,"t":"(d)"}]
},
"columns": 2,
"bounds": "flush",
"spacing": {"row": 22, "column": 44},
"resolve": {"scale": {"color": "independent"}, "legend": {"color": "independent"}},
"concat": [
{"width": 426, "height": 288, "data": {"name": "a"},
 "resolve": {"axis": {"x": "independent", "y": "independent"}},
 "layer": [
  {"mark": {"type": "errorbar", "thickness": 1.3},
   "encoding": {
    "x": {"field": "x", "type": "quantitative", "scale": {"domain": [4000, 12000], "nice": false}, "axis": {"title": null, "values": [4000,5000,6000,7000,8000,9000,10000,11000,12000], "format": "d", "ticks": false, "tickSize": 0, "domain": false, "labelPadding": 3, "labelFlush": false, "labelOverlap": false}},
    "y": {"field": "y", "type": "quantitative", "scale": {"domain": [0, 0.1], "nice": false}, "axis": {"title": "Normalized values", "titleX": -38, "titleY": 303, "titleBaseline": "alphabetic", "titleAngle": -90, "values": [0,0.01,0.02,0.03,0.04,0.05,0.06,0.07,0.08,0.09,0.1], "format": ".2~f", "ticks": false, "tickSize": 0, "domain": false, "labelPadding": 5, "labelFlush": false, "labelOverlap": false}},
    "yError": {"field": "e"},
    "color": {"field": "l", "type": "nominal", "scale": {"domain": ["T","M","B"], "range": ["#000000","#ff0000","#0000ff"]}, "legend": {"orient": "none", "legendX": 321, "legendY": 8, "title": null, "symbolType": "stroke", "symbolSize": 260, "symbolStrokeWidth": 2, "rowPadding": 7, "labelOffset": 4, "labelExpr": "datum.label == 'T' ? 'Top layer' : datum.label == 'M' ? 'Midle layer' : 'Bottom layer'"}}
   }},
  {"mark": {"type": "tick", "orient": "horizontal", "size": 3, "thickness": 1},
   "encoding": {
    "x": {"field": "x", "type": "quantitative", "scale": {"domain": [4000, 12000], "nice": false}, "axis": {"orient": "top", "offset": -288, "title": null, "labels": false, "domain": false, "tickSize": 8, "values": [4000,5000,6000,7000,8000,9000,10000,11000,12000]}},
    "y": {"field": "y", "type": "quantitative", "scale": {"domain": [0, 0.1], "nice": false}, "axis": {"orient": "right", "offset": -426, "title": null, "labels": false, "domain": false, "tickSize": 12, "values": [0,0.01,0.02,0.03,0.04,0.05,0.06,0.07,0.08,0.09,0.1]}},
    "color": {"field": "l", "type": "nominal"}
   }},
  {"data": {"name": "labels"}, "transform": [{"filter": "datum.p == 'a'"}],
   "mark": {"type": "text", "fontWeight": "bold", "fontSize": 14, "align": "left", "baseline": "middle", "font": "Liberation Sans"},
   "encoding": {
    "x": {"field": "x", "type": "quantitative", "scale": {"domain": [4000, 12000], "nice": false}, "axis": {"orient": "top", "offset": -288, "title": null, "labels": false, "domain": false, "tickSize": 4, "values": [4200,4400,4600,4800,5200,5400,5600,5800,6200,6400,6600,6800,7200,7400,7600,7800,8200,8400,8600,8800,9200,9400,9600,9800,10200,10400,10600,10800,11200,11400,11600,11800]}},
    "y": {"field": "y", "type": "quantitative", "scale": {"domain": [0, 0.1], "nice": false}, "axis": {"orient": "right", "offset": -426, "title": null, "labels": false, "domain": false, "tickSize": 6, "values": [0.002,0.004,0.006,0.008,0.012,0.014,0.016,0.018,0.022,0.024,0.026,0.028,0.032,0.034,0.036,0.038,0.042,0.044,0.046,0.048,0.052,0.054,0.056,0.058,0.062,0.064,0.066,0.068,0.072,0.074,0.076,0.078,0.082,0.084,0.086,0.088,0.092,0.094,0.096,0.098]}},
    "text": {"field": "t"}}}
 ]},
{"width": 426, "height": 288, "data": {"name": "b"},
 "resolve": {"axis": {"x": "independent", "y": "independent"}},
 "layer": [
  {"mark": {"type": "errorbar", "thickness": 1.3},
   "encoding": {
    "x": {"field": "x", "type": "quantitative", "scale": {"domain": [4000, 12000], "nice": false}, "axis": {"title": null, "values": [4000,5000,6000,7000,8000,9000,10000,11000,12000], "format": "d", "ticks": false, "tickSize": 0, "domain": false, "labelPadding": 3, "labelFlush": false, "labelOverlap": false}},
    "y": {"field": "y", "type": "quantitative", "scale": {"domain": [0, 0.1], "nice": false}, "axis": {"title": null, "values": [0,0.01,0.02,0.03,0.04,0.05,0.06,0.07,0.08,0.09,0.1], "format": ".2~f", "ticks": false, "tickSize": 0, "domain": false, "labelPadding": 5, "labelFlush": false, "labelOverlap": false}},
    "yError": {"field": "e"},
    "color": {"field": "l", "type": "nominal", "scale": {"domain": ["T","M","B"], "range": ["#000000","#ff0000","#0000ff"]}, "legend": {"orient": "none", "legendX": 321, "legendY": 8, "title": null, "symbolType": "stroke", "symbolSize": 260, "symbolStrokeWidth": 2, "rowPadding": 7, "labelOffset": 4, "labelExpr": "datum.label == 'T' ? 'Top layer' : datum.label == 'M' ? 'Midle layer' : 'Bottom layer'"}}
   }},
  {"mark": {"type": "tick", "orient": "horizontal", "size": 3, "thickness": 1},
   "encoding": {
    "x": {"field": "x", "type": "quantitative", "scale": {"domain": [4000, 12000], "nice": false}, "axis": {"orient": "top", "offset": -288, "title": null, "labels": false, "domain": false, "tickSize": 8, "values": [4000,5000,6000,7000,8000,9000,10000,11000,12000]}},
    "y": {"field": "y", "type": "quantitative", "scale": {"domain": [0, 0.1], "nice": false}, "axis": {"orient": "right", "offset": -426, "title": null, "labels": false, "domain": false, "tickSize": 12, "values": [0,0.01,0.02,0.03,0.04,0.05,0.06,0.07,0.08,0.09,0.1]}},
    "color": {"field": "l", "type": "nominal"}
   }},
  {"data": {"name": "labels"}, "transform": [{"filter": "datum.p == 'b'"}],
   "mark": {"type": "text", "fontWeight": "bold", "fontSize": 14, "align": "left", "baseline": "middle", "font": "Liberation Sans"},
   "encoding": {
    "x": {"field": "x", "type": "quantitative", "scale": {"domain": [4000, 12000], "nice": false}, "axis": {"orient": "top", "offset": -288, "title": null, "labels": false, "domain": false, "tickSize": 4, "values": [4200,4400,4600,4800,5200,5400,5600,5800,6200,6400,6600,6800,7200,7400,7600,7800,8200,8400,8600,8800,9200,9400,9600,9800,10200,10400,10600,10800,11200,11400,11600,11800]}},
    "y": {"field": "y", "type": "quantitative", "scale": {"domain": [0, 0.1], "nice": false}, "axis": {"orient": "right", "offset": -426, "title": null, "labels": false, "domain": false, "tickSize": 6, "values": [0.002,0.004,0.006,0.008,0.012,0.014,0.016,0.018,0.022,0.024,0.026,0.028,0.032,0.034,0.036,0.038,0.042,0.044,0.046,0.048,0.052,0.054,0.056,0.058,0.062,0.064,0.066,0.068,0.072,0.074,0.076,0.078,0.082,0.084,0.086,0.088,0.092,0.094,0.096,0.098]}},
    "text": {"field": "t"}}}
 ]},
{"width": 426, "height": 288, "data": {"name": "c"},
 "resolve": {"axis": {"x": "independent", "y": "independent"}},
 "layer": [
  {"mark": {"type": "errorbar", "thickness": 1.3},
   "encoding": {
    "x": {"field": "x", "type": "quantitative", "scale": {"domain": [4000, 12000], "nice": false}, "axis": {"title": "adc values", "titleX": 426, "titleY": 33, "titleBaseline": "alphabetic", "values": [4000,5000,6000,7000,8000,9000,10000,11000,12000], "format": "d", "ticks": false, "tickSize": 0, "domain": false, "labelPadding": 3, "labelFlush": false, "labelOverlap": false}},
    "y": {"field": "y", "type": "quantitative", "scale": {"domain": [0, 0.1], "nice": false}, "axis": {"title": null, "values": [0,0.01,0.02,0.03,0.04,0.05,0.06,0.07,0.08,0.09,0.1], "format": ".2~f", "ticks": false, "tickSize": 0, "domain": false, "labelPadding": 5, "labelFlush": false, "labelOverlap": false}},
    "yError": {"field": "e"},
    "color": {"field": "l", "type": "nominal", "scale": {"domain": ["T","M","B"], "range": ["#000000","#ff0000","#0000ff"]}, "legend": {"orient": "none", "legendX": 321, "legendY": 8, "title": null, "symbolType": "stroke", "symbolSize": 260, "symbolStrokeWidth": 2, "rowPadding": 7, "labelOffset": 4, "labelExpr": "datum.label == 'T' ? 'Top layer' : datum.label == 'M' ? 'Midle layer' : 'Bottom layer'"}}
   }},
  {"mark": {"type": "tick", "orient": "horizontal", "size": 3, "thickness": 1},
   "encoding": {
    "x": {"field": "x", "type": "quantitative", "scale": {"domain": [4000, 12000], "nice": false}, "axis": {"orient": "top", "offset": -288, "title": null, "labels": false, "domain": false, "tickSize": 8, "values": [4000,5000,6000,7000,8000,9000,10000,11000,12000]}},
    "y": {"field": "y", "type": "quantitative", "scale": {"domain": [0, 0.1], "nice": false}, "axis": {"orient": "right", "offset": -426, "title": null, "labels": false, "domain": false, "tickSize": 12, "values": [0,0.01,0.02,0.03,0.04,0.05,0.06,0.07,0.08,0.09,0.1]}},
    "color": {"field": "l", "type": "nominal"}
   }},
  {"data": {"name": "labels"}, "transform": [{"filter": "datum.p == 'c'"}],
   "mark": {"type": "text", "fontWeight": "bold", "fontSize": 14, "align": "left", "baseline": "middle", "font": "Liberation Sans"},
   "encoding": {
    "x": {"field": "x", "type": "quantitative", "scale": {"domain": [4000, 12000], "nice": false}, "axis": {"orient": "top", "offset": -288, "title": null, "labels": false, "domain": false, "tickSize": 4, "values": [4200,4400,4600,4800,5200,5400,5600,5800,6200,6400,6600,6800,7200,7400,7600,7800,8200,8400,8600,8800,9200,9400,9600,9800,10200,10400,10600,10800,11200,11400,11600,11800]}},
    "y": {"field": "y", "type": "quantitative", "scale": {"domain": [0, 0.1], "nice": false}, "axis": {"orient": "right", "offset": -426, "title": null, "labels": false, "domain": false, "tickSize": 6, "values": [0.002,0.004,0.006,0.008,0.012,0.014,0.016,0.018,0.022,0.024,0.026,0.028,0.032,0.034,0.036,0.038,0.042,0.044,0.046,0.048,0.052,0.054,0.056,0.058,0.062,0.064,0.066,0.068,0.072,0.074,0.076,0.078,0.082,0.084,0.086,0.088,0.092,0.094,0.096,0.098]}},
    "text": {"field": "t"}}}
 ]},
{"width": 426, "height": 288, "data": {"name": "d"},
 "resolve": {"axis": {"x": "independent", "y": "independent"}},
 "layer": [
  {"mark": {"type": "errorbar", "thickness": 1.3},
   "encoding": {
    "x": {"field": "x", "type": "quantitative", "scale": {"domain": [4000, 12000], "nice": false}, "axis": {"title": null, "values": [4000,5000,6000,7000,8000,9000,10000,11000,12000], "format": "d", "ticks": false, "tickSize": 0, "domain": false, "labelPadding": 3, "labelFlush": false, "labelOverlap": false}},
    "y": {"field": "y", "type": "quantitative", "scale": {"domain": [0, 0.1], "nice": false}, "axis": {"title": null, "values": [0,0.01,0.02,0.03,0.04,0.05,0.06,0.07,0.08,0.09,0.1], "format": ".2~f", "ticks": false, "tickSize": 0, "domain": false, "labelPadding": 5, "labelFlush": false, "labelOverlap": false}},
    "yError": {"field": "e"},
    "color": {"field": "l", "type": "nominal", "scale": {"domain": ["T","M","B"], "range": ["#000000","#ff0000","#0000ff"]}, "legend": {"orient": "none", "legendX": 321, "legendY": 8, "title": null, "symbolType": "stroke", "symbolSize": 260, "symbolStrokeWidth": 2, "rowPadding": 7, "labelOffset": 4, "labelExpr": "datum.label == 'T' ? 'Top layer' : datum.label == 'M' ? 'Midle layer' : 'Bottom layer'"}}
   }},
  {"mark": {"type": "tick", "orient": "horizontal", "size": 3, "thickness": 1},
   "encoding": {
    "x": {"field": "x", "type": "quantitative", "scale": {"domain": [4000, 12000], "nice": false}, "axis": {"orient": "top", "offset": -288, "title": null, "labels": false, "domain": false, "tickSize": 8, "values": [4000,5000,6000,7000,8000,9000,10000,11000,12000]}},
    "y": {"field": "y", "type": "quantitative", "scale": {"domain": [0, 0.1], "nice": false}, "axis": {"orient": "right", "offset": -426, "title": null, "labels": false, "domain": false, "tickSize": 12, "values": [0,0.01,0.02,0.03,0.04,0.05,0.06,0.07,0.08,0.09,0.1]}},
    "color": {"field": "l", "type": "nominal"}
   }},
  {"data": {"name": "labels"}, "transform": [{"filter": "datum.p == 'd'"}],
   "mark": {"type": "text", "fontWeight": "bold", "fontSize": 14, "align": "left", "baseline": "middle", "font": "Liberation Sans"},
   "encoding": {
    "x": {"field": "x", "type": "quantitative", "scale": {"domain": [4000, 12000], "nice": false}, "axis": {"orient": "top", "offset": -288, "title": null, "labels": false, "domain": false, "tickSize": 4, "values": [4200,4400,4600,4800,5200,5400,5600,5800,6200,6400,6600,6800,7200,7400,7600,7800,8200,8400,8600,8800,9200,9400,9600,9800,10200,10400,10600,10800,11200,11400,11600,11800]}},
    "y": {"field": "y", "type": "quantitative", "scale": {"domain": [0, 0.1], "nice": false}, "axis": {"orient": "right", "offset": -426, "title": null, "labels": false, "domain": false, "tickSize": 6, "values": [0.002,0.004,0.006,0.008,0.012,0.014,0.016,0.018,0.022,0.024,0.026,0.028,0.032,0.034,0.036,0.038,0.042,0.044,0.046,0.048,0.052,0.054,0.056,0.058,0.062,0.064,0.066,0.068,0.072,0.074,0.076,0.078,0.082,0.084,0.086,0.088,0.092,0.094,0.096,0.098]}},
    "text": {"field": "t"}}}
 ]}
]
}
